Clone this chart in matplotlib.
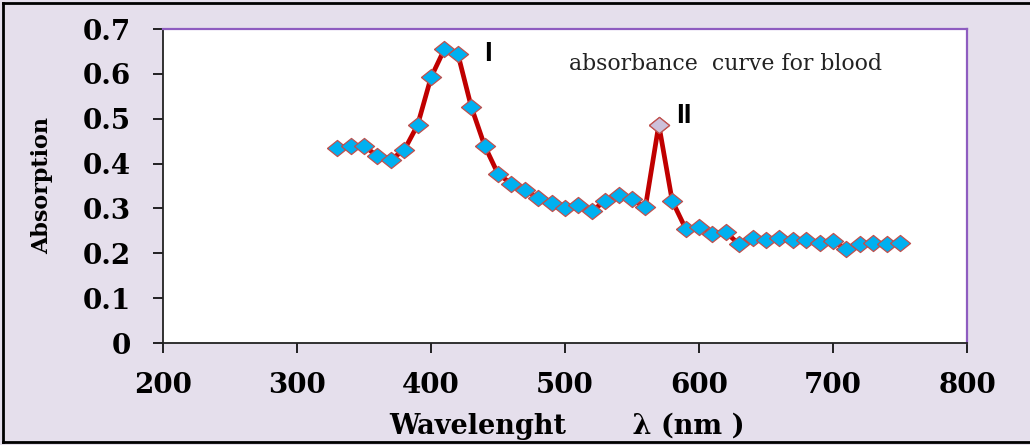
import matplotlib
matplotlib.use('Agg')
import matplotlib.pyplot as plt
from matplotlib.lines import Line2D

# absorbance of blood
wavelength = [330, 340, 350, 360, 370, 380, 390, 400, 410, 420,
              430, 440, 450, 460, 470, 480, 490, 500, 510, 520,
              530, 540, 550, 560, 570, 580, 590, 600, 610, 620,
              630, 640, 650, 660, 670, 680, 690, 700, 710, 720,
              730, 740, 750]
absorption = [0.435, 0.440, 0.440, 0.416, 0.409, 0.430, 0.486, 0.592, 0.655, 0.645,
              0.527, 0.440, 0.377, 0.355, 0.341, 0.324, 0.313, 0.302, 0.307, 0.295,
              0.316, 0.330, 0.320, 0.303, 0.487, 0.317, 0.255, 0.259, 0.244, 0.247,
              0.220, 0.233, 0.230, 0.235, 0.230, 0.230, 0.222, 0.227, 0.210, 0.221,
              0.223, 0.221, 0.223]
peak_index = 24   # the 570 nm point, drawn in pink
peak_labels = ['I', 'II']
peak_label_pos = [(440, 0.645), (583, 0.505)]
x_ticks = [200, 300, 400, 500, 600, 700, 800]
y_ticks = [0, 0.1, 0.2, 0.3, 0.4, 0.5, 0.6, 0.7]

bg = '#E5DFEC'
purple = '#8E5CC0'
serif = ['DejaVu Serif']

fig = plt.figure(figsize=(10.3, 4.45), dpi=100, facecolor=bg)
ax = fig.add_axes([163 / 1030, 1 - 343 / 445, 804 / 1030, 314 / 445])
ax.set_facecolor('white')

diamond = [(-1, 0), (0, 0.8), (1, 0), (0, -0.8), (-1, 0)]
ax.plot(wavelength, absorption, color='#C00000', lw=3.4, zorder=2)
ax.plot(wavelength, absorption, ls='none', marker=diamond, ms=14.5,
        mfc='#00B0F0', mec='#C0504D', mew=0.9, zorder=3)
ax.plot([wavelength[peak_index]], [absorption[peak_index]], ls='none', marker=diamond,
        ms=14.5, mfc='#CCC0DA', mec='#C0504D', mew=0.9, zorder=4)

for lab, (px, py) in zip(peak_labels, peak_label_pos):
    ax.text(px, py, lab, fontsize=20, fontweight='bold', family='Liberation Sans',
            ha='left', va='center')

ax.text(0.505, 0.89, 'absorbance  curve for blood', transform=ax.transAxes,
        fontsize=15.8, family='DejaVu Serif', color='#222222', ha='left', va='center')

ax.set_xlim(200, 800)
ax.set_ylim(0, 0.7)
ax.set_xticks(x_ticks)
ax.set_yticks(y_ticks)
ax.set_xticklabels([str(t) for t in x_ticks])
ax.set_yticklabels(['0' if t == 0 else '%.1f' % t for t in y_ticks])
for lab in ax.get_xticklabels() + ax.get_yticklabels():
    lab.set_family(serif)
    lab.set_fontweight('bold')
    lab.set_fontsize(20)
ax.tick_params(axis='x', direction='out', length=7, width=1.2, pad=14, colors='black')
ax.tick_params(axis='y', direction='out', length=7, width=1.2, pad=16, colors='black')

ax.spines['left'].set_color('#222222')
ax.spines['bottom'].set_color('#222222')
ax.spines['left'].set_linewidth(1.3)
ax.spines['bottom'].set_linewidth(1.3)
ax.spines['top'].set_color(purple)
ax.spines['right'].set_color(purple)
ax.spines['top'].set_linewidth(1.6)
ax.spines['right'].set_linewidth(1.6)

fig.text(42 / 1030, 1 - 186 / 445, 'Absorption', rotation=90, ha='center', va='center',
         fontsize=16, fontweight='bold', family=serif)
fig.text(567 / 1030, 1 - 426 / 445, 'Wavelenght       \u03bb (nm )', ha='center', va='center',
         fontsize=19.5, fontweight='bold', family=serif)

# black frame round the picture
for xs, ys in [([0.003, 0.003], [0.006, 0.994]),
               ([0.003, 1.0], [0.994, 0.994]),
               ([0.003, 1.0], [0.006, 0.006])]:
    fig.add_artist(Line2D(xs, ys, transform=fig.transFigure, color='black', lw=2))

fig.savefig('out.png', dpi=100, facecolor=bg)
